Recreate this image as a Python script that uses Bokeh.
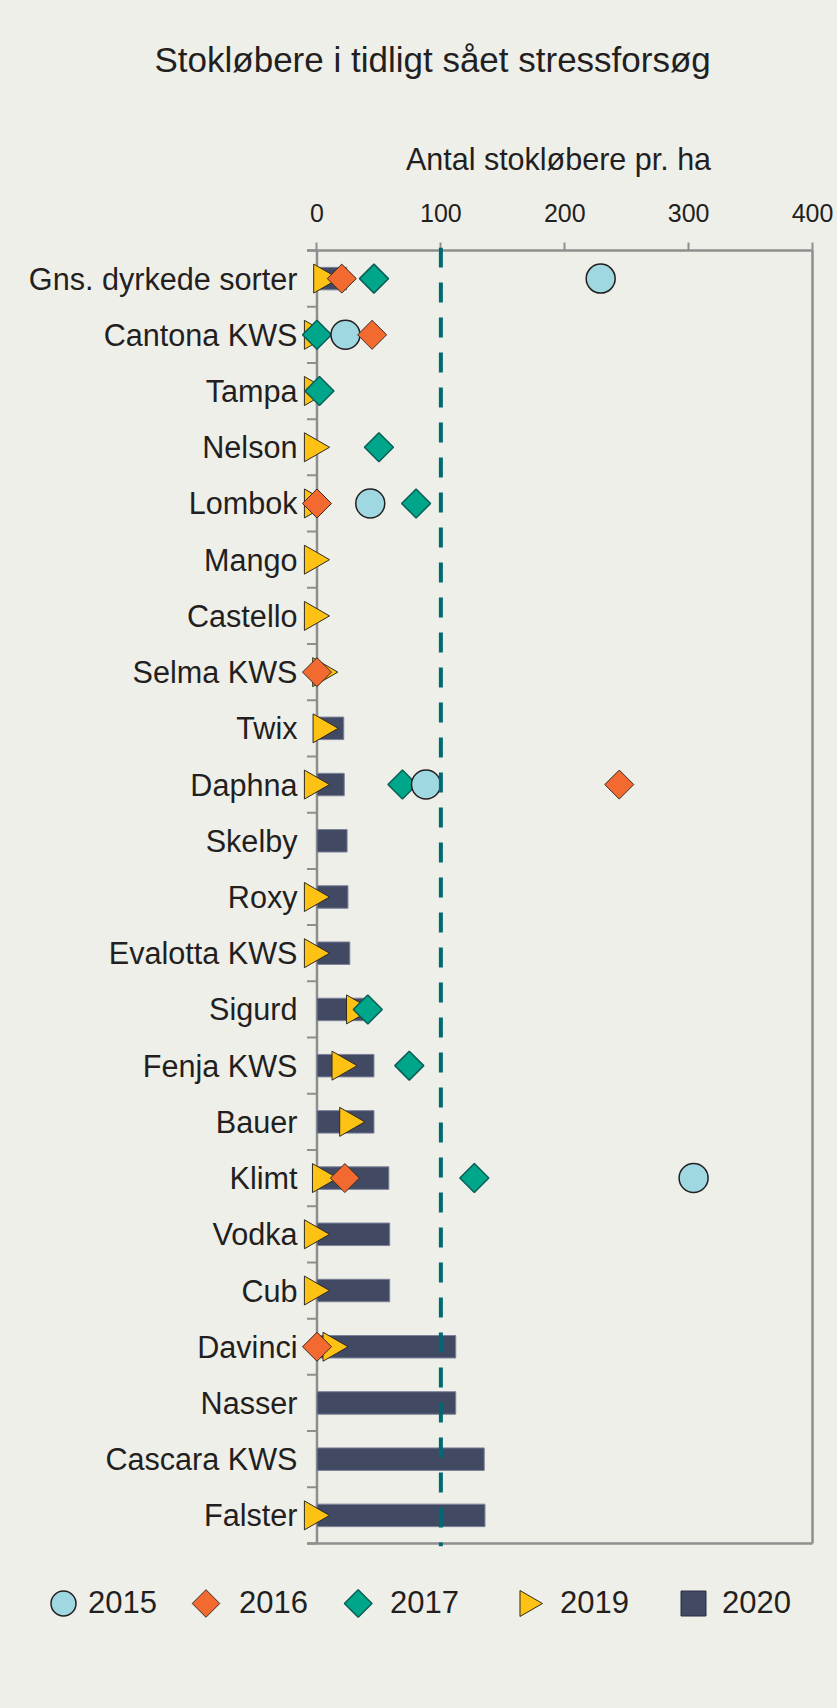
import math
from bokeh.plotting import figure
from bokeh.models import Range1d, FixedTicker, Span, Legend, LegendItem, ColumnDataSource, Title
from bokeh.transform import dodge
from bokeh.embed import file_html
from bokeh.resources import INLINE

# ---------------- data ----------------
categories = ["Gns. dyrkede sorter", "Cantona KWS", "Tampa", "Nelson", "Lombok", "Mango",
              "Castello", "Selma KWS", "Twix", "Daphna", "Skelby", "Roxy", "Evalotta KWS",
              "Sigurd", "Fenja KWS", "Bauer", "Klimt", "Vodka", "Cub", "Davinci", "Nasser",
              "Cascara KWS", "Falster"]
v2015 = [229, 23, None, None, 43, None, None, None, None, 88, None, None, None,
         None, None, None, 304, None, None, None, None, None, None]
v2016 = [20, 44.5, None, None, 0, None, None, 0, None, 244, None, None, None,
         None, None, None, 22.5, None, None, 0, None, None, None]
v2017 = [46, 0, 2, 50, 80, None, None, None, None, 69, None, None, None,
         41, 74.5, None, 127, None, None, None, None, None, None]
v2019 = [7.5, 0, 0, 0, 0, 0, 0, 6.7, 7, 0, None, 0, 0,
         34, 22.3, 28.5, 6.5, 0, 0, 15, None, None, 0]
v2020 = [24, None, None, None, None, None, None, None, 21.6, 22, 24.3, 25, 26.5,
         38, 46, 46, 58, 58.7, 58.7, 112, 112, 135, 135.6]
x_ticks = [0, 100, 200, 300, 400]
threshold = 100
series_names = ["2015", "2016", "2017", "2019", "2020"]

title_text = "Stokløbere i tidligt sået stressforsøg"
x_label = "Antal stokløbere pr. ha"

# ---------------- style ----------------
BG = "#efefea"
GRAY = "#8e8e8e"
TXT = "#231f20"
FONT = "Liberation Sans"
C15, C16, C17, C19, C20 = "#9fd8e0", "#f26a2f", "#00a68a", "#fec215", "#424962"
L15, L16, L17, L19, L20 = "#231f20", "#3a2a22", "#0b5e56", "#2d2a20", "#2a2f40"

n = len(categories)
centers = [i + 0.5 for i in range(n)]
x_lo, x_hi = -12.5, 402.4          # a little room round the frame so markers at 0 show whole
y_pad = 3 / (1293 / n)
tick_len = 10 / 1.2389              # category tick length in data units


def src(vals):
    idx = [i for i, v in enumerate(vals) if v is not None]
    return ColumnDataSource(dict(x=[vals[i] for i in idx], y=[centers[i] for i in idx]))


p = figure(frame_width=514, frame_height=1299,
           x_range=Range1d(x_lo, x_hi), y_range=Range1d(n + y_pad, -y_pad),
           x_axis_location="above", output_backend="svg", toolbar_location=None,
           min_border_left=301, min_border_right=22, min_border_top=247, min_border_bottom=27,
           background_fill_color=BG, border_fill_color=BG, outline_line_color=None)
p.xgrid.visible = False
p.ygrid.visible = False

xa = p.xaxis[0]
xa.ticker = FixedTicker(ticks=x_ticks)
xa.major_tick_out = 5
xa.major_tick_in = 3
xa.minor_tick_out = 0
xa.minor_tick_in = 0
xa.axis_line_color = None
xa.major_tick_line_color = GRAY
xa.major_tick_line_width = 2
xa.major_label_text_font = FONT
xa.major_label_text_font_size = "25px"
xa.major_label_text_color = TXT
xa.major_label_standoff = 21
xa.axis_label = x_label
xa.axis_label_text_font = FONT
xa.axis_label_text_font_size = "30.5px"
xa.axis_label_text_font_style = "normal"
xa.axis_label_text_color = TXT
xa.axis_label_standoff = 25

# spacer between axis label and title, then the title itself
p.add_layout(Title(text=" ", text_font_size="1px", standoff=52), "above")
p.add_layout(Title(text=title_text, align="left", offset=-147, standoff=10,
                   text_font=FONT, text_font_size="35px", text_font_style="normal",
                   text_color=TXT), "above")

ya = p.yaxis[0]
ya.ticker = FixedTicker(ticks=centers)
ya.major_label_overrides = {c: name for c, name in zip(centers, categories)}
ya.major_tick_out = 0
ya.major_tick_in = 0
ya.minor_tick_out = 0
ya.minor_tick_in = 0
ya.axis_line_color = None
ya.major_label_text_font = FONT
ya.major_label_text_font_size = "30.6px"
ya.major_label_text_color = TXT
ya.major_label_standoff = 4

# frame: category ticks, axis line at 0, top / bottom / right borders
bounds = list(range(n + 1))
p.segment(x0=[-tick_len] * len(bounds), x1=[0] * len(bounds), y0=bounds, y1=bounds,
          line_color=GRAY, line_width=2)
p.segment(x0=[0, -tick_len, -tick_len, x_ticks[-1]],
          x1=[0, x_ticks[-1], x_ticks[-1], x_ticks[-1]],
          y0=[0, 0, n, 0], y1=[n, 0, n, n], line_color=GRAY, line_width=2.5)

# bars 2020
r20 = p.hbar(y="y", left=0, right="x", height=0.4, source=src(v2020),
             fill_color=C20, line_color="#7b8299", line_width=1)
# 2019 triangles pointing right (shifted so the box, not the centroid, sits on the value)
r19 = p.scatter(x=dodge("x", -3.4, range=p.x_range), y="y", source=src(v2019),
                marker="triangle", angle=-math.pi / 2, size=29,
                fill_color=C19, line_color=L19, line_width=1)
r17 = p.scatter(x="x", y="y", source=src(v2017), marker="square", angle=math.pi / 4,
                size=20.5, fill_color=C17, line_color=L17, line_width=1.5)
r15 = p.scatter(x="x", y="y", source=src(v2015), marker="circle", size=29,
                fill_color=C15, line_color=L15, line_width=1.5)
r16 = p.scatter(x="x", y="y", source=src(v2016), marker="square", angle=math.pi / 4,
                size=20.5, fill_color=C16, line_color=L16, line_width=1)

p.add_layout(Span(location=threshold, dimension="height", line_color="#006a72",
                  line_width=4, line_dash="20 15"))

# ---------------- legend strip (second root, directly under the chart) ----------------
LH = 135
KEY_Y = 30
lf = figure(width=837, height=LH, x_range=Range1d(0, 837), y_range=Range1d(LH, 0),
            x_axis_location=None, y_axis_location=None, min_border=0,
            output_backend="svg", toolbar_location=None,
            background_fill_color=BG, border_fill_color=BG, outline_line_color=None)
lf.grid.visible = False

# legend keys drawn as markers (rotated like the chart's markers)
key_x = [63, 205.5, 357.7, 527, 693]
key_style = [
    dict(marker="circle", size=25, angle=0, fill_color=C15, line_color=L15, line_width=1.5),
    dict(marker="square", size=19.5, angle=math.pi / 4, fill_color=C16, line_color=L16, line_width=1),
    dict(marker="square", size=19.5, angle=math.pi / 4, fill_color=C17, line_color=L17, line_width=1.5),
    dict(marker="triangle", size=26, angle=-math.pi / 2, fill_color=C19, line_color=L19, line_width=1),
    dict(marker="square", size=25, angle=0, fill_color=C20, line_color=L20, line_width=1),
]
for kx, ks in zip(key_x, key_style):
    lf.scatter(x=[kx], y=[KEY_Y], **ks)

# legend texts; their own swatches are transparent stand-ins (the keys are drawn above)
ghost = lf.scatter(x=[float("nan")], y=[float("nan")], marker="circle",
                   fill_alpha=0, line_alpha=0)
label_x = [88, 239, 390, 560, 722]
for name, lx in zip(series_names, label_x):
    lf.add_layout(Legend(items=[LegendItem(label=name, renderers=[ghost])],
                         location=(lx - 1, LH - KEY_Y - 25), orientation="horizontal",
                         glyph_width=1, glyph_height=50, label_standoff=0,
                         padding=0, margin=0, spacing=0, border_line_color=None,
                         background_fill_alpha=0,
                         label_text_font=FONT, label_text_font_size="31px",
                         label_text_color=TXT))

html = file_html((p, lf), INLINE)
html = html.replace("</head>", "<style>html, body { background: %s; }</style></head>" % BG, 1)
open("out.html", "w").write(html)
